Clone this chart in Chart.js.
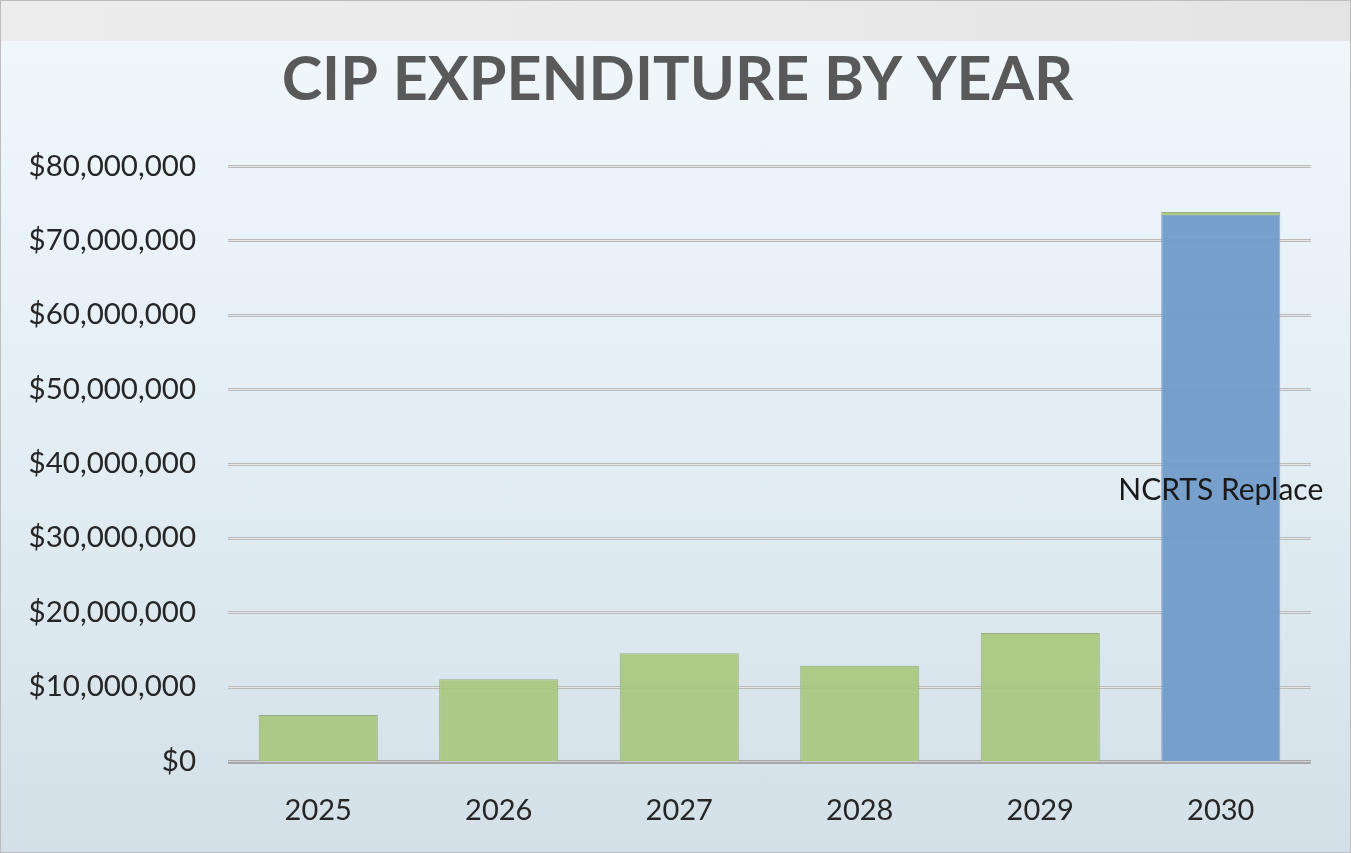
<!DOCTYPE html>
<html>
<head>
<meta charset="utf-8">
<script src="https://cdn.jsdelivr.net/npm/chart.js@4.4.1/dist/chart.umd.min.js"></script>
<style>
  html, body { margin: 0; padding: 0; }
  body { width: 1351px; height: 853px; overflow: hidden; background: #fff; }
  .frame {
    position: absolute; left: 0; top: 0; width: 1349px; height: 851px;
    border: 1px solid #bdbdbd;
    background: linear-gradient(180deg, #f1f8fc 0px, #e3eef5 420px, #d4e0e7 851px);
  }
  .header {
    position: absolute; left: 0; top: 0; width: 1349px; height: 40px;
    background: linear-gradient(90deg, #ededed, #e9e9e9 60%, #e4e4e4);
  }
  .wrap { position: absolute; left: 0; top: 0; width: 1351px; height: 853px; }
</style>
</head>
<body>
<div class="frame"><div class="header"></div></div>
<div class="wrap"><canvas id="cipChart" width="1351" height="853"></canvas></div>
<script>
// ---------- data ----------
const years = ["2025", "2026", "2027", "2028", "2029", "2030"];
const ncrtsValues = [null, null, null, null, null, 73400000];
const otherValues = [6200000, 11000000, 14500000, 12800000, 17200000, 400000];
const ncrtsLabels = ["", "", "", "", "", "NCRTS Replace"];
const yTicks = [0, 10000000, 20000000, 30000000, 40000000, 50000000, 60000000, 70000000, 80000000];
const chartTitle = "CIP EXPENDITURE BY YEAR";

const fontFamily = "Lato, 'Open Sans', sans-serif";

function money(v) {
  return "$" + v.toLocaleString("en-US");
}

// double gray gridlines like the office chart
const gridPlugin = {
  id: "doubleGrid",
  beforeDatasetsDraw(chart) {
    const { ctx, chartArea } = chart;
    const y = chart.scales.y;
    ctx.save();
    yTicks.forEach(t => {
      const py = Math.round(y.getPixelForValue(t));
      const zero = t === 0;
      ctx.fillStyle = zero ? "#a9a9a9" : "#bababa";
      ctx.fillRect(chartArea.left, py - 1, chartArea.right - chartArea.left, zero ? 4 : 3);
      ctx.fillStyle = zero ? "#cfcfcf" : "#e6e6e6";
      ctx.fillRect(chartArea.left, py, chartArea.right - chartArea.left, 1);
    });
    ctx.restore();
  }
};

// title centered on the whole canvas
const titlePlugin = {
  id: "bigTitle",
  afterDraw(chart) {
    const { ctx } = chart;
    ctx.save();
    ctx.font = "bold 61px " + fontFamily;
    ctx.fillStyle = "#595959";
    ctx.textAlign = "center";
    ctx.textBaseline = "alphabetic";
    ctx.fillText(chartTitle, chart.width / 2 + 2, 100);
    ctx.restore();
  }
};

// data label inside the blue bar
const labelPlugin = {
  id: "barLabel",
  afterDatasetsDraw(chart) {
    const { ctx } = chart;
    const meta = chart.getDatasetMeta(0);
    ctx.save();
    ctx.font = "30px " + fontFamily;
    ctx.fillStyle = "#1a1a1a";
    ctx.textAlign = "center";
    ctx.textBaseline = "middle";
    meta.data.forEach((bar, i) => {
      if (!ncrtsLabels[i]) return;
      const p = bar.getProps(["x", "y", "base"], true);
      ctx.fillText(ncrtsLabels[i], p.x, (p.y + p.base) / 2 + 2);
    });
    ctx.restore();
  }
};

new Chart(document.getElementById("cipChart"), {
  type: "bar",
  data: {
    labels: years,
    datasets: [
      {
        label: "NCRTS Replace",
        data: ncrtsValues,
        backgroundColor: "rgba(112, 155, 202, 0.94)",
        borderColor: "#8fa9c4",
        borderWidth: 1,
        borderSkipped: "bottom"
      },
      {
        label: "Other",
        data: otherValues,
        backgroundColor: "rgba(170, 199, 127, 0.93)",
        borderColor: "#9aae86",
        borderWidth: 1,
        borderSkipped: "bottom"
      }
    ]
  },
  options: {
    responsive: false,
    animation: false,
    layout: { padding: { top: 166, right: 40, bottom: 0, left: 0 } },
    datasets: { bar: { categoryPercentage: 1, barPercentage: 0.66 } },
    plugins: {
      legend: { display: false },
      title: { display: false },
      tooltip: { enabled: false }
    },
    scales: {
      x: {
        stacked: true,
        grid: { display: false },
        border: { display: false },
        ticks: { color: "#262626", font: { family: fontFamily, size: 29 }, padding: 24 },
        afterFit(scale) { scale.height = 92; }
      },
      y: {
        stacked: true,
        min: 0,
        max: 80000000,
        grid: { display: false, drawTicks: false },
        border: { display: false },
        afterBuildTicks(scale) { scale.ticks = yTicks.map(v => ({ value: v })); },
        ticks: {
          color: "#262626",
          font: { family: fontFamily, size: 29.5 },
          padding: 32,
          callback: v => money(v)
        },
        afterFit(scale) { scale.width = 228; }
      }
    }
  },
  plugins: [gridPlugin, labelPlugin, titlePlugin]
});
</script>
</body>
</html>
